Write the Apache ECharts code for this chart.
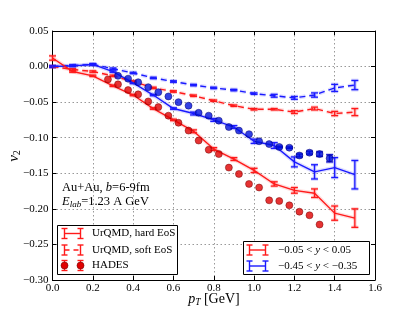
<!DOCTYPE html>
<html><head><meta charset="utf-8">
<script src="https://cdn.jsdelivr.net/npm/echarts@6/dist/echarts.min.js"></script>
<style>html,body{margin:0;padding:0;background:#fff}#c{width:415px;height:312px}</style>
</head><body><div id="c"></div>
<script>
// ---- data ----
const xTicks = [0.0, 0.2, 0.4, 0.6, 0.8, 1.0, 1.2, 1.4, 1.6];
const yTicks = [-0.30, -0.25, -0.20, -0.15, -0.10, -0.05, 0.00, 0.05];
const pTModel = [0.0, 0.1, 0.2, 0.3, 0.4, 0.5, 0.6, 0.7, 0.8, 0.9, 1.0, 1.1, 1.2, 1.3, 1.4, 1.5];
// UrQMD hard EoS, -0.05<y<0.05 (red solid)
const hardMid    = [0.012, -0.007, -0.013, -0.027, -0.040, -0.059, -0.075, -0.091, -0.116, -0.130, -0.146, -0.165, -0.174, -0.178, -0.206, -0.213];
const hardMidErr = [0.003, 0.001, 0.001, 0.001, 0.001, 0.001, 0.001, 0.002, 0.002, 0.002, 0.003, 0.003, 0.004, 0.006, 0.010, 0.013];
// UrQMD soft EoS, -0.05<y<0.05 (red dashed)
const softMid    = [0.000, -0.004, -0.007, -0.013, -0.021, -0.030, -0.035, -0.041, -0.048, -0.055, -0.060, -0.060, -0.064, -0.059, -0.066, -0.064];
const softMidErr = [0.001, 0.001, 0.001, 0.001, 0.001, 0.001, 0.001, 0.001, 0.001, 0.001, 0.001, 0.001, 0.002, 0.002, 0.003, 0.005];
// UrQMD hard EoS, -0.45<y<-0.35 (blue solid)
const hardBack    = [0.000, 0.001, 0.003, -0.007, -0.023, -0.040, -0.059, -0.066, -0.075, -0.085, -0.105, -0.111, -0.134, -0.148, -0.142, -0.152];
const hardBackErr = [0.001, 0.001, 0.001, 0.001, 0.001, 0.001, 0.001, 0.002, 0.002, 0.002, 0.003, 0.004, 0.007, 0.010, 0.014, 0.020];
// UrQMD soft EoS, -0.45<y<-0.35 (blue dashed)
const softBack    = [0.000, 0.0015, 0.003, -0.003, -0.009, -0.016, -0.021, -0.026, -0.030, -0.033, -0.038, -0.041, -0.044, -0.040, -0.030, -0.026];
const softBackErr = [0.001, 0.001, 0.001, 0.001, 0.001, 0.001, 0.001, 0.001, 0.001, 0.001, 0.001, 0.002, 0.002, 0.003, 0.005, 0.0065];
// HADES, -0.05<y<0.05 (red dots)
const hadesMidPT = [0.275, 0.325, 0.375, 0.425, 0.475, 0.525, 0.575, 0.625, 0.675, 0.725, 0.775, 0.825, 0.875, 0.925, 0.975, 1.025, 1.075, 1.125, 1.175, 1.225, 1.275, 1.325];
const hadesMid   = [-0.018, -0.025, -0.033, -0.039, -0.049, -0.057, -0.069, -0.079, -0.090, -0.104, -0.117, -0.123, -0.142, -0.151, -0.165, -0.170, -0.188, -0.189, -0.195, -0.204, -0.209, -0.222];
// HADES, -0.45<y<-0.35 (blue dots)
const hadesBackPT  = [0.325, 0.375, 0.425, 0.475, 0.525, 0.575, 0.625, 0.675, 0.725, 0.775, 0.825, 0.875, 0.925, 0.975, 1.025, 1.075, 1.125, 1.175, 1.225, 1.275, 1.325, 1.375];
const hadesBack    = [-0.013, -0.017, -0.022, -0.029, -0.036, -0.042, -0.050, -0.055, -0.065, -0.069, -0.076, -0.085, -0.090, -0.095, -0.105, -0.109, -0.113, -0.114, -0.125, -0.121, -0.123, -0.129];
const hadesBackErr = [0, 0, 0, 0, 0, 0, 0, 0, 0, 0, 0, 0, 0, 0, 0, 0, 0.001, 0.001, 0.002, 0.002, 0.003, 0.005];

const RED = '#ff1a1a', BLUE = '#1a1aff';
const SERIF = '"Liberation Serif","DejaVu Serif",serif';

function pairs(xs, ys) { return xs.map((x, i) => [x, ys[i]]); }

function errSeries(xs, ys, errs, color) {
  return {
    type: 'custom', xAxisIndex: 0, yAxisIndex: 0, z: 3, silent: true,
    renderItem: function (params, api) {
      const x = api.value(0), y = api.value(1), e = api.value(2);
      if (!e) return null;
      const a = api.coord([x, y + e]), b = api.coord([x, y - e]);
      const cw = 3.5;
      const mk = (w, op) => ({ stroke: color, lineWidth: w, opacity: op });
      const segs = (st) => [
        { type: 'line', shape: { x1: a[0], y1: a[1], x2: b[0], y2: b[1] }, style: st },
        { type: 'line', shape: { x1: a[0] - cw, y1: a[1], x2: a[0] + cw, y2: a[1] }, style: st },
        { type: 'line', shape: { x1: b[0] - cw, y1: b[1], x2: b[0] + cw, y2: b[1] }, style: st }
      ];
      return { type: 'group', children: segs(mk(3.5, 0.2)).concat(segs(mk(1.3, 1))) };
    },
    data: xs.map((x, i) => [x, ys[i], errs[i]])
  };
}

function lineSeries(xs, ys, color, dashed) {
  return [
    { type: 'line', data: pairs(xs, ys), symbol: 'none', silent: true, z: 2,
      lineStyle: { color: color, width: 4, opacity: 0.15, type: dashed ? [6, 4] : 'solid' } },
    { type: 'line', data: pairs(xs, ys), symbol: 'none', silent: true, z: 3,
      lineStyle: { color: color, width: 1.4, type: dashed ? [6, 4] : 'solid' } }
  ];
}

function fmtNum(v, d) { return v.toFixed(d).replace('-', '\u2212'); }

const chart = echarts.init(document.getElementById('c'), null, { renderer: 'canvas' });

const gridL = 52.5, gridT = 31, gridR = 40, gridB = 32;

const axisCommon = {
  axisLine: { show: true, onZero: false, lineStyle: { color: '#000', width: 1 } },
  axisTick: { show: true, inside: true, length: 4, lineStyle: { color: '#000' } },
};

const option = {
  animation: false,
  grid: { left: gridL, top: gridT, right: gridR, bottom: gridB, show: false },
  xAxis: [
    Object.assign({ type: 'value', min: xTicks[0], max: xTicks[xTicks.length - 1], interval: 0.2,
      axisLabel: { color: '#000', fontFamily: SERIF, fontSize: 11, margin: 3, formatter: v => fmtNum(v, 1) },
      splitLine: { show: true, lineStyle: { color: '#999', type: [1.5, 2.5], width: 1 } } }, axisCommon),
    Object.assign({ type: 'value', position: 'top', min: xTicks[0], max: xTicks[xTicks.length - 1], interval: 0.2,
      axisLabel: { show: false }, splitLine: { show: false } }, axisCommon)
  ],
  yAxis: [
    Object.assign({ type: 'value', min: yTicks[0], max: yTicks[yTicks.length - 1], interval: 0.05,
      axisLabel: { color: '#000', fontFamily: SERIF, fontSize: 11, margin: 4, formatter: v => fmtNum(v, 2) },
      splitLine: { show: true, lineStyle: { color: '#999', type: [1.5, 2.5], width: 1 } } }, axisCommon),
    Object.assign({ type: 'value', position: 'right', min: yTicks[0], max: yTicks[yTicks.length - 1], interval: 0.05,
      axisLabel: { show: false }, splitLine: { show: false } }, axisCommon)
  ],
  series: [].concat(
    lineSeries(pTModel, softBack, BLUE, true),
    lineSeries(pTModel, softMid, RED, true),
    lineSeries(pTModel, hardBack, BLUE, false),
    lineSeries(pTModel, hardMid, RED, false),
    [errSeries(pTModel, softBack, softBackErr, BLUE),
     errSeries(pTModel, softMid, softMidErr, RED),
     errSeries(pTModel, hardBack, hardBackErr, BLUE),
     errSeries(pTModel, hardMid, hardMidErr, RED),
     errSeries(hadesBackPT, hadesBack, hadesBackErr, '#0000cc'),
     { type: 'scatter', data: pairs(hadesBackPT, hadesBack), symbol: 'circle', symbolSize: 7, z: 4, silent: true,
       itemStyle: { color: '#0010dd', borderColor: '#000066', borderWidth: 0.6 } },
     { type: 'scatter', data: pairs(hadesMidPT, hadesMid), symbol: 'circle', symbolSize: 7, z: 4, silent: true,
       itemStyle: { color: '#e00000', borderColor: '#700000', borderWidth: 0.6 } }]
  ),
  graphic: []
};

// --- annotations & legends (graphic) ---
const G = option.graphic;
function txt(x, y, text, rich, extra) {
  G.push(Object.assign({ type: 'text', x: x, y: y, z: 100,
    style: { text: text, fill: '#000', font: '12px ' + SERIF, verticalAlign: 'middle', rich: rich || {} } }, extra || {}));
}
const rs = (sz, it) => ({ fontFamily: SERIF, fontSize: sz, fontStyle: it ? 'italic' : 'normal', fill: '#000' });

// axis titles
txt(14, 156, '', {}, { rotation: Math.PI / 2, style: { text: '{i|v}{s|2}', align: 'center', verticalAlign: 'middle',
    rich: { i: rs(15, true), s: Object.assign(rs(10, false), { padding: [7, 0, 0, 0] }) } } });
txt(214, 299, '', {}, { style: { text: '{i|p}{s|T} {n|[GeV]}', align: 'center', verticalAlign: 'middle',
  rich: { i: rs(14, true), s: Object.assign(rs(9.5, true), { padding: [7, 0, 0, 0] }), n: rs(14, false) } } });

// annotation
txt(62, 188, '', {}, { style: { text: '{n|Au+Au, }{i|b}{n|=6-9fm}', verticalAlign: 'middle',
  rich: { n: rs(12.5, false), i: rs(12.5, true) } } });
txt(62, 202, '', {}, { style: { text: '{i|E}{s|lab}{n|=1.23 A GeV}', verticalAlign: 'middle',
  rich: { n: rs(12.5, false), i: rs(12.5, true), s: Object.assign(rs(9, true), { padding: [6, 0, 0, 0] }) } } });

// legend boxes
G.push({ type: 'rect', z: 90, shape: { x: 57.5, y: 225.5, width: 120, height: 49 }, style: { fill: '#fff', stroke: '#000', lineWidth: 1 } });
G.push({ type: 'rect', z: 90, shape: { x: 243.5, y: 241.5, width: 126, height: 33 }, style: { fill: '#fff', stroke: '#000', lineWidth: 1 } });

function legErr(x1, x2, y, color, dashed, dots) {
  const h = 5, st = { stroke: color, lineWidth: 1.4 };
  if (!dots) G.push({ type: 'line', z: 101, shape: { x1: x1, y1: y, x2: x2, y2: y }, style: Object.assign({ lineDash: dashed ? [5, 4] : null }, st) });
  [x1, x2].forEach(x => {
    G.push({ type: 'line', z: 101, shape: { x1: x, y1: y - h, x2: x, y2: y + h }, style: st });
    G.push({ type: 'line', z: 101, shape: { x1: x - 3, y1: y - h, x2: x + 3, y2: y - h }, style: st });
    G.push({ type: 'line', z: 101, shape: { x1: x - 3, y1: y + h, x2: x + 3, y2: y + h }, style: st });
    if (dots) G.push({ type: 'circle', z: 102, shape: { cx: x, cy: y, r: 3.5 }, style: { fill: '#e00000', stroke: '#700000', lineWidth: 0.6 } });
  });
}
legErr(64.5, 80.5, 233.5, RED, false, false);
legErr(64.5, 80.5, 250, RED, true, false);
legErr(64.5, 80.5, 265.5, RED, false, true);
txt(92, 233.5, 'UrQMD, hard EoS', null, { style: { text: 'UrQMD, hard EoS', font: '11px ' + SERIF, verticalAlign: 'middle', fill: '#000' } });
txt(92, 250, 'UrQMD, soft EoS', null, { style: { text: 'UrQMD, soft EoS', font: '11px ' + SERIF, verticalAlign: 'middle', fill: '#000' } });
txt(92, 265.5, 'HADES', null, { style: { text: 'HADES', font: '11px ' + SERIF, verticalAlign: 'middle', fill: '#000' } });

legErr(249.5, 265.5, 250, RED, false, false);
legErr(249.5, 265.5, 266, BLUE, false, false);
const yr = { n: rs(11, false), i: rs(11, true) };
txt(278, 250, '', {}, { style: { text: '{n|\u22120.05 < }{i|y}{n| < 0.05}', verticalAlign: 'middle', rich: yr } });
txt(278, 266, '', {}, { style: { text: '{n|\u22120.45 < }{i|y}{n| < \u22120.35}', verticalAlign: 'middle', rich: yr } });

chart.setOption(option);
</script>
</body></html>
